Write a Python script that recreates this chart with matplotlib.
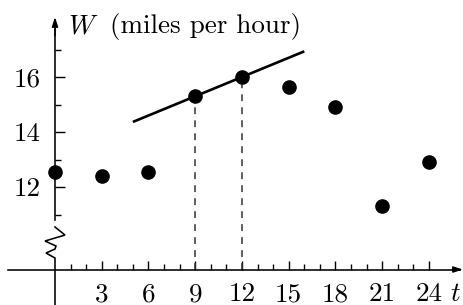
import numpy as np
import matplotlib
matplotlib.use("Agg")
import matplotlib.pyplot as plt

plt.rcParams['font.family'] = ['cmr10', 'DejaVu Serif']
plt.rcParams['mathtext.fontset'] = 'cm'
plt.rcParams['axes.unicode_minus'] = False

# data
t_vals = [0, 3, 6, 9, 12, 15, 18, 21, 24]
w_vals = [12.55, 12.4, 12.55, 15.3, 16.0, 15.65, 14.9, 11.3, 12.9]
x_ticks = [3, 6, 9, 12, 15, 18, 21, 24]
y_ticks = [12, 14, 16]
secant_t = [9, 12]          # points joined by the line
secant_span = [5, 16]       # how far the line is drawn
axis_w = 9                  # height where the t axis sits (axis break below 11)

fig = plt.figure(figsize=(4.64, 3.05), dpi=100)
ax = fig.add_axes([0, 0, 1, 1])
ax.set_xlim(-3.53, 26.25)
ax.set_ylim(7.71, 18.8)

# axes: spines placed at data positions
for s in ['top', 'right']:
    ax.spines[s].set_visible(False)
ax.spines['left'].set_position(('data', 0))
ax.spines['bottom'].set_position(('data', axis_w))
ax.spines['left'].set_bounds(10.8, 18.0)
ax.spines['bottom'].set_bounds(-3.0, 26.0)
for s in ['left', 'bottom']:
    ax.spines[s].set_linewidth(1.15)

ax.set_xticks(x_ticks)
ax.set_xticklabels([str(v) for v in x_ticks])
ax.set_xticks([v for v in range(1, 24)], minor=True)
ax.set_yticks(y_ticks)
ax.set_yticklabels([str(v) for v in y_ticks])
ax.set_yticks([11, 13, 15, 17], minor=True)
ax.tick_params(which='major', direction='in', length=7, width=1.0,
               labelsize=19.5)
ax.tick_params(which='minor', direction='in', length=4.5, width=1.0)
ax.tick_params(axis='x', which='major', pad=9.5, length=6.5)
ax.tick_params(axis='y', which='major', pad=10.5)

# arrows at the ends of the axes
arrow = dict(arrowstyle='-|>,head_length=0.55,head_width=0.18', lw=1.1,
             color='black', shrinkA=0, shrinkB=0)
ax.annotate('', xy=(0, 18.18), xytext=(0, 17.5), arrowprops=arrow)
ax.annotate('', xy=(26.18, axis_w), xytext=(25.5, axis_w), arrowprops=arrow)

# zigzag axis break and the lower part of the W axis
px = lambda x: (x - 55) / 15.583
py = lambda y: 16 - (y - 77) / 27.5
zig = [(55, 227), (65, 235), (45, 241), (56, 246), (55, 249), (46, 253), (55, 258), (55, 305)]
ax.plot([px(a) for a, b in zig], [py(b) for a, b in zig], color='black', lw=1.15,
        solid_joinstyle='miter', clip_on=False)

# secant line through the two points
t0, t1 = secant_t
w0, w1 = w_vals[t_vals.index(t0)], w_vals[t_vals.index(t1)]
slope = (w1 - w0) / (t1 - t0)
span = np.array(secant_span, dtype=float)
ax.plot(span, w0 + slope * (span - t0), color='black', lw=1.9, solid_capstyle='butt')

# dashed drop lines
for tt in secant_t:
    ax.plot([tt, tt], [axis_w, w_vals[t_vals.index(tt)]], color='#333333', lw=1.1,
            dashes=(4.5, 4))

ax.plot(t_vals, w_vals, 'o', color='black', markersize=9.5, zorder=5)

ax.text(0.83, 17.6, r'$W$', fontsize=19.5, ha='left', va='baseline')
ax.text(px(110), 17.6, '(miles per hour)', fontsize=19.5, ha='left', va='baseline')
ax.text(25.35, 7.85, r'$t$', fontsize=19.5, ha='left', va='baseline')

fig.savefig('out.png', dpi=100)
